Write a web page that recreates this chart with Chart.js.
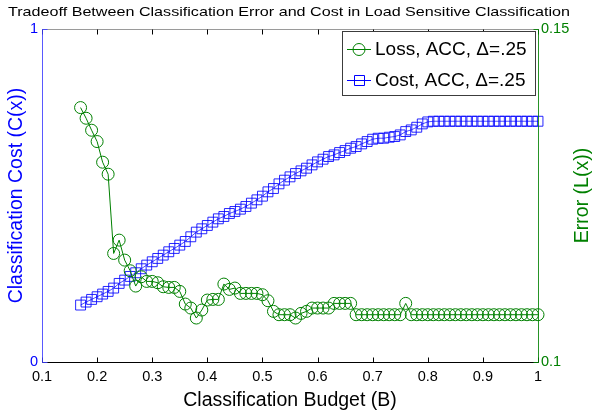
<!DOCTYPE html>
<html lang="en">
<head>
<meta charset="UTF-8">
<title>Tradeoff Between Classification Error and Cost</title>
<script src="https://cdn.jsdelivr.net/npm/chart.js"></script>
<style>
    body { margin: 0; padding: 0; background: #fff; overflow: hidden; }
    #wrap { width: 595px; height: 412px; }
</style>
</head>
<body>
<div id="wrap"><canvas id="tradeoffChart" width="595" height="412"></canvas></div>
<script>
    // classification budget (x)
    const budget = [
        0.17, 0.18, 0.19, 0.20, 0.21, 0.22, 0.23, 0.24, 0.25, 0.26,
        0.27, 0.28, 0.29, 0.30, 0.31, 0.32, 0.33, 0.34, 0.35, 0.36,
        0.37, 0.38, 0.39, 0.40, 0.41, 0.42, 0.43, 0.44, 0.45, 0.46,
        0.47, 0.48, 0.49, 0.50, 0.51, 0.52, 0.53, 0.54, 0.55, 0.56,
        0.57, 0.58, 0.59, 0.60, 0.61, 0.62, 0.63, 0.64, 0.65, 0.66,
        0.67, 0.68, 0.69, 0.70, 0.71, 0.72, 0.73, 0.74, 0.75, 0.76,
        0.77, 0.78, 0.79, 0.80, 0.81, 0.82, 0.83, 0.84, 0.85, 0.86,
        0.87, 0.88, 0.89, 0.90, 0.91, 0.92, 0.93, 0.94, 0.95, 0.96,
        0.97, 0.98, 0.99, 1.00
    ];
    // error L(x), right axis
    const lossACC = [
        0.1382, 0.1366, 0.1348, 0.1331, 0.1300, 0.1282, 0.1163, 0.1183, 0.1153, 0.1137,
        0.1114, 0.1128, 0.1121, 0.1121, 0.1119, 0.1113, 0.1112, 0.1112, 0.1106, 0.1087,
        0.1081, 0.1066, 0.1078, 0.1093, 0.1094, 0.1094, 0.1117, 0.1109, 0.1111, 0.1103,
        0.1103, 0.1103, 0.1103, 0.1101, 0.1092, 0.1076, 0.1071, 0.1071, 0.1071, 0.1066,
        0.1073, 0.1076, 0.1081, 0.1081, 0.1081, 0.1081, 0.1088, 0.1088, 0.1088, 0.1088,
        0.1071, 0.1071, 0.1071, 0.1071, 0.1071, 0.1071, 0.1071, 0.1071, 0.1071, 0.1088,
        0.1071, 0.1071, 0.1071, 0.1071, 0.1071, 0.1071, 0.1071, 0.1071, 0.1071, 0.1071,
        0.1071, 0.1071, 0.1071, 0.1071, 0.1071, 0.1071, 0.1071, 0.1071, 0.1071, 0.1071,
        0.1071, 0.1071, 0.1071, 0.1071
    ];
    // classification cost C(x), left axis
    const costACC = [
        0.171, 0.180, 0.188, 0.196, 0.204, 0.212, 0.222, 0.236, 0.246, 0.257,
        0.268, 0.280, 0.291, 0.301, 0.311, 0.321, 0.331, 0.341, 0.351, 0.362,
        0.376, 0.390, 0.400, 0.410, 0.420, 0.430, 0.437, 0.446, 0.452, 0.459,
        0.467, 0.477, 0.487, 0.498, 0.511, 0.521, 0.535, 0.546, 0.556, 0.566,
        0.574, 0.582, 0.592, 0.601, 0.609, 0.617, 0.622, 0.629, 0.635, 0.642,
        0.647, 0.655, 0.662, 0.669, 0.672, 0.672, 0.675, 0.677, 0.682, 0.692,
        0.697, 0.705, 0.715, 0.721, 0.723, 0.723, 0.723, 0.723, 0.723, 0.723,
        0.723, 0.723, 0.723, 0.723, 0.723, 0.723, 0.723, 0.723, 0.723, 0.723,
        0.723, 0.723, 0.723, 0.723
    ];
    const xTicks = [0.1, 0.2, 0.3, 0.4, 0.5, 0.6, 0.7, 0.8, 0.9, 1];
    const costTicks = [0, 1];
    const lossTicks = [0.1, 0.15];

    const FONT = '"Liberation Sans", Arial, Helvetica, sans-serif';
    const GREEN = 'rgb(0,128,0)';
    const BLUE = 'rgb(0,0,255)';
    Chart.defaults.font.family = FONT;

    // frame, inner tick marks, titles and the boxed legend
    const matlabLook = {
        id: 'matlabLook',
        afterDraw(chart) {
            const ctx = chart.ctx;
            const a = chart.chartArea;
            const xs = chart.scales.x, yl = chart.scales.y, yr = chart.scales.y1;
            const L = a.left + 0.5, R = a.right + 0.5, T = a.top + 0.5, B = a.bottom + 0.5;
            const midY = (a.top + a.bottom) / 2;
            ctx.save();
            ctx.lineWidth = 1;

            // box
            ctx.strokeStyle = '#9a9a9a';
            ctx.beginPath(); ctx.moveTo(L, T); ctx.lineTo(R, T); ctx.stroke();
            ctx.strokeStyle = '#000';
            ctx.beginPath(); ctx.moveTo(L, B); ctx.lineTo(R, B); ctx.stroke();
            xTicks.forEach(v => {
                const px = Math.round(xs.getPixelForValue(v)) + 0.5;
                ctx.beginPath();
                ctx.moveTo(px, B); ctx.lineTo(px, B - 5);
                ctx.moveTo(px, T); ctx.lineTo(px, T + 5);
                ctx.stroke();
            });
            ctx.strokeStyle = 'rgba(60,60,255,0.85)';
            ctx.beginPath(); ctx.moveTo(L, T); ctx.lineTo(L, B); ctx.stroke();
            costTicks.forEach(v => {
                const py = Math.round(yl.getPixelForValue(v)) + 0.5;
                ctx.beginPath(); ctx.moveTo(L, py); ctx.lineTo(L + 5, py); ctx.stroke();
            });
            ctx.strokeStyle = 'rgba(0,128,0,0.85)';
            ctx.beginPath(); ctx.moveTo(R, T); ctx.lineTo(R, B); ctx.stroke();
            lossTicks.forEach(v => {
                const py = Math.round(yr.getPixelForValue(v)) + 0.5;
                ctx.beginPath(); ctx.moveTo(R, py); ctx.lineTo(R - 5, py); ctx.stroke();
            });

            // main title (slightly wide in the original)
            ctx.fillStyle = '#000';
            ctx.font = '13px ' + FONT;
            ctx.textAlign = 'center';
            ctx.textBaseline = 'alphabetic';
            const title = 'Tradeoff Between Classification Error and Cost in Load Sensitive Classification';
            const tw = ctx.measureText(title).width;
            ctx.save();
            ctx.translate(289, 15.5);
            ctx.scale(562 / tw, 1);
            ctx.fillText(title, 0, 0);
            ctx.restore();

            // y axis titles, both read bottom to top
            ctx.font = '19.5px ' + FONT;
            ctx.textBaseline = 'middle';
            ctx.save();
            ctx.translate(17, midY);
            ctx.rotate(-Math.PI / 2);
            ctx.fillStyle = BLUE;
            ctx.fillText('Classification Cost (C(x))', 0, 0);
            ctx.restore();
            ctx.save();
            ctx.translate(583, midY);
            ctx.rotate(-Math.PI / 2);
            ctx.fillStyle = GREEN;
            ctx.fillText('Error (L(x))', 0, 0);
            ctx.restore();

            // legend
            ctx.fillStyle = '#fff';
            ctx.fillRect(342.5, 31.5, 193, 64);
            ctx.strokeStyle = '#3c3c3c';
            ctx.strokeRect(342.5, 31.5, 193, 64);
            chart.data.datasets.forEach((ds, i) => {
                const y = 49 + i * 31;
                ctx.strokeStyle = ds.borderColor;
                ctx.lineWidth = 1;
                ctx.beginPath(); ctx.moveTo(347, y + 0.5); ctx.lineTo(371, y + 0.5); ctx.stroke();
                ctx.beginPath();
                if (ds.pointStyle === 'circle') {
                    ctx.arc(359, y + 0.5, 6, 0, Math.PI * 2);
                } else {
                    ctx.rect(354.5, y - 4.5, 10, 10);
                }
                ctx.stroke();
                ctx.fillStyle = '#000';
                ctx.font = '19px ' + FONT;
                ctx.textAlign = 'left';
                ctx.textBaseline = 'middle';
                ctx.fillText(ds.label, 375, y + 1);
            });
            ctx.restore();
        }
    };

    const chart = new Chart(document.getElementById('tradeoffChart').getContext('2d'), {
        type: 'line',
        data: {
            datasets: [{
                label: 'Loss, ACC, \u0394=.25',
                data: budget.map((b, i) => ({ x: b, y: lossACC[i] })),
                yAxisID: 'y1',
                borderColor: GREEN,
                borderWidth: 1,
                pointStyle: 'circle',
                pointRadius: 6,
                pointBorderWidth: 1,
                pointBorderColor: GREEN,
                pointBackgroundColor: 'rgba(0,0,0,0)',
                fill: false,
                tension: 0,
                clip: false
            }, {
                label: 'Cost, ACC, \u0394=.25',
                data: budget.map((b, i) => ({ x: b, y: costACC[i] })),
                yAxisID: 'y',
                borderColor: BLUE,
                borderWidth: 0.7,
                pointStyle: 'rect',
                pointRadius: 7,
                pointBorderWidth: 1,
                pointBorderColor: 'rgba(0,0,255,0.85)',
                pointBackgroundColor: 'rgba(0,0,0,0)',
                fill: false,
                tension: 0,
                clip: false
            }]
        },
        options: {
            responsive: false,
            animation: false,
            layout: { padding: { top: 29, left: 0, right: 0, bottom: 0 } },
            plugins: {
                legend: { display: false },
                tooltip: { enabled: false },
                title: { display: false }
            },
            scales: {
                x: {
                    type: 'linear',
                    position: 'bottom',
                    min: 0.1,
                    max: 1,
                    afterBuildTicks: s => { s.ticks = xTicks.map(v => ({ value: v })); },
                    afterFit: s => { s.height = 50; },
                    grid: { display: false, drawTicks: false },
                    border: { display: false },
                    ticks: {
                        color: '#000',
                        font: { size: 14.5 },
                        padding: 6,
                        maxRotation: 0,
                        callback: v => String(v)
                    },
                    title: {
                        display: true,
                        text: 'Classification Budget (B)',
                        color: '#000',
                        font: { size: 19.5 },
                        padding: { top: 0, bottom: 0 }
                    }
                },
                y: {
                    position: 'left',
                    min: 0,
                    max: 1,
                    afterBuildTicks: s => { s.ticks = costTicks.map(v => ({ value: v })); },
                    afterFit: s => { s.width = 42; },
                    grid: { display: false, drawTicks: false },
                    border: { display: false },
                    ticks: { color: BLUE, font: { size: 14.5 }, padding: 4, callback: v => String(v) }
                },
                y1: {
                    position: 'right',
                    min: 0.1,
                    max: 0.15,
                    afterBuildTicks: s => { s.ticks = lossTicks.map(v => ({ value: v })); },
                    afterFit: s => { s.width = 57; },
                    grid: { display: false, drawTicks: false },
                    border: { display: false },
                    ticks: { color: GREEN, font: { size: 14.5 }, padding: 3, callback: v => String(v) }
                }
            }
        },
        plugins: [matlabLook]
    });
</script>
</body>
</html>
